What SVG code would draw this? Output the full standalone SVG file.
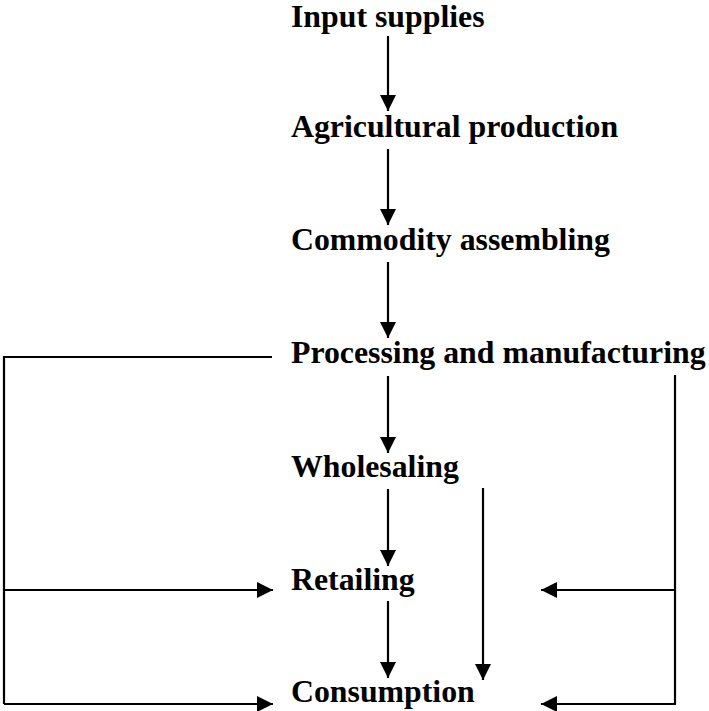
<svg xmlns="http://www.w3.org/2000/svg" width="709" height="711" viewBox="0 0 709 711">
  <style>
    .label { font-family: 'Liberation Serif', 'Times New Roman', Times, serif; font-weight: 700; font-size: 31.8px; fill: #000; }
    .line { stroke: #000; stroke-width: 2.2; fill: none; }
    .arrow { stroke: #000; stroke-width: 2.2; fill: none; marker-end: url(#head); }
  </style>
  <defs>
    <marker id="head" markerUnits="userSpaceOnUse" markerWidth="16" markerHeight="16" viewBox="0 0 14 14" refX="14" refY="7" orient="auto">
      <path d="M0,0 L14,7 L0,14 Z" fill="#000"/>
    </marker>
  </defs>

  <rect x="0" y="0" width="709" height="711" fill="#fff"/>

  <g id="input-supplies"><text class="label" x="291" y="27">Input supplies</text></g>
  <g id="agricultural-production"><text class="label" x="291" y="137">Agricultural production</text></g>
  <g id="commodity-assembling"><text class="label" x="291" y="250">Commodity assembling</text></g>
  <g id="processing-manufacturing"><text class="label" x="291" y="363">Processing and manufacturing</text></g>
  <g id="wholesaling"><text class="label" x="291" y="477">Wholesaling</text></g>
  <g id="retailing"><text class="label" x="291" y="590">Retailing</text></g>
  <g id="consumption"><text class="label" x="291" y="702">Consumption</text></g>

  <g id="connectors">
    <!-- main chain -->
    <line class="arrow" x1="388" y1="36" x2="388" y2="111"/>
    <line class="arrow" x1="388" y1="149" x2="388" y2="225"/>
    <line class="arrow" x1="388" y1="262" x2="388" y2="338"/>
    <line class="arrow" x1="388" y1="376" x2="388" y2="453"/>
    <line class="arrow" x1="388" y1="489" x2="388" y2="566"/>
    <line class="arrow" x1="388" y1="601" x2="388" y2="678"/>

    <!-- wholesaling straight to consumption -->
    <line class="arrow" x1="483" y1="488" x2="483" y2="680"/>

    <!-- left bypass from processing -->
    <polyline class="line" points="272,357 4,357 4,704"/>
    <line class="arrow" x1="4" y1="590" x2="273" y2="590"/>
    <line class="arrow" x1="4" y1="704" x2="273" y2="704"/>

    <!-- right bypass from processing -->
    <line class="line" x1="675" y1="375" x2="675" y2="705"/>
    <line class="arrow" x1="675" y1="590" x2="541" y2="590"/>
    <line class="arrow" x1="675" y1="704" x2="541" y2="704"/>
  </g>
</svg>
